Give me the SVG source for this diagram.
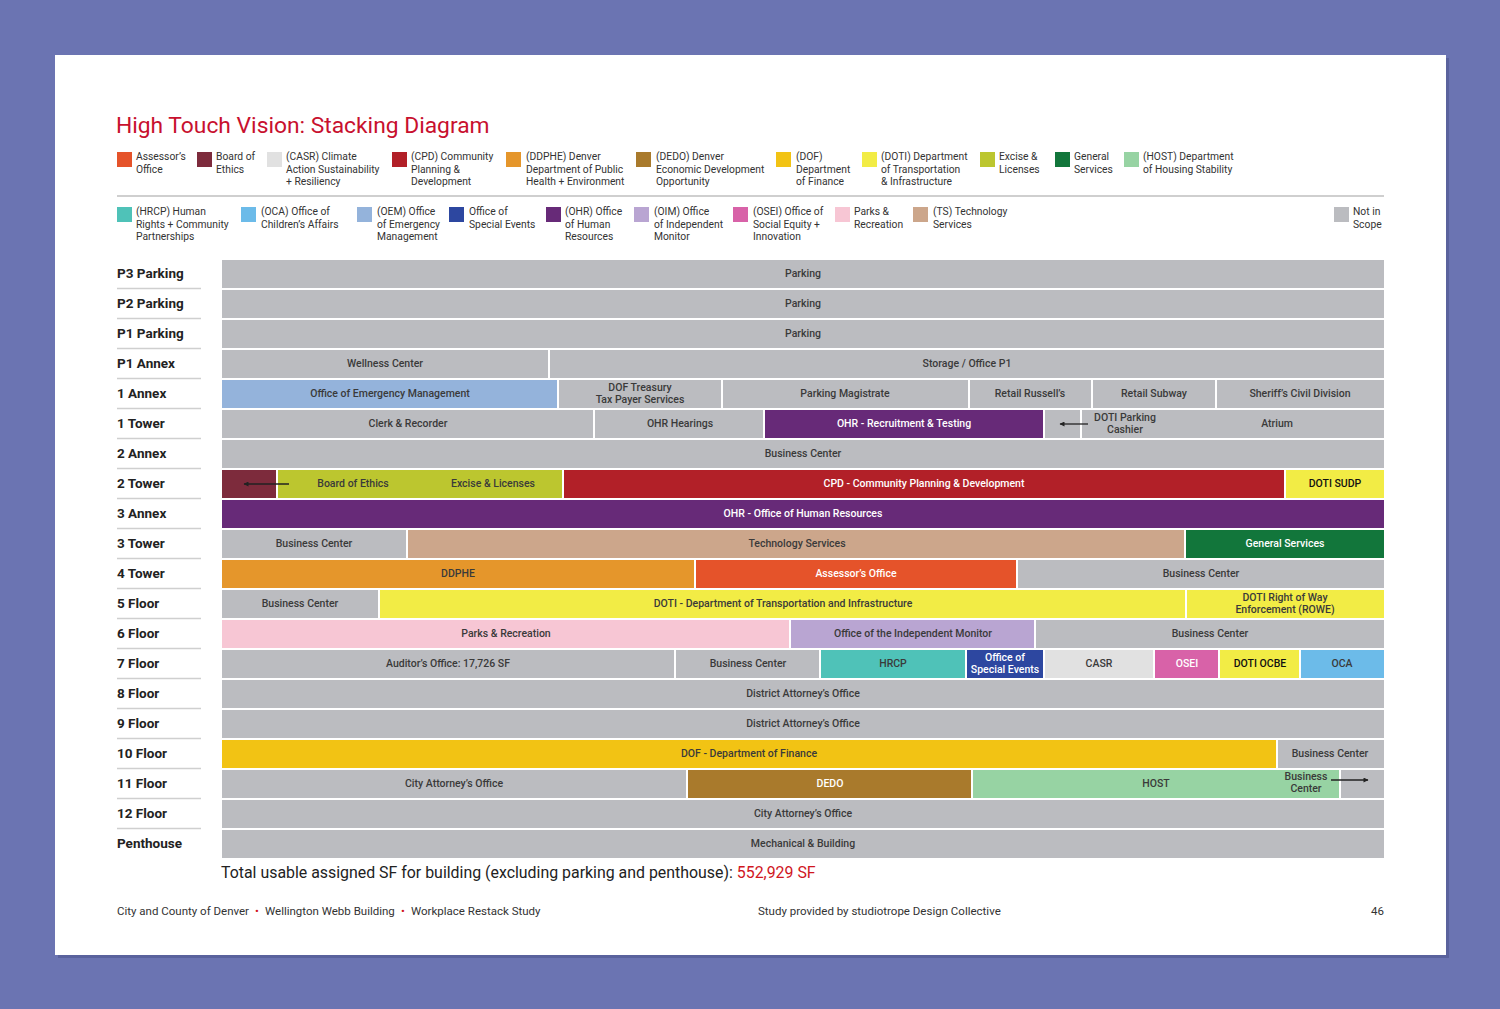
<svg xmlns="http://www.w3.org/2000/svg" width="1500" height="1009" viewBox="0 0 1500 1009">
<style>
text{font-family:Roboto,"Liberation Sans",Arial,sans-serif;}
.title{font-size:22.8px;fill:#c8102e;}
.lg{font-size:10.3px;fill:#333;}
.rl{font-size:13.5px;font-weight:700;fill:#222;}
.ul{stroke:#cfcfcf;stroke-width:1.5;}
.t{font-size:10.5px;font-weight:500;fill:#3a3a3a;text-anchor:middle;}
.w{fill:#fff;}
.k{fill:#111;}
.g{fill:#bbbcc0;}
.asr{fill:#e5532a;}.boe{fill:#7d2b3c;}.casr{fill:#e1e1e1;}.cpd{fill:#b22028;}
.ddphe{fill:#e5962b;}.dedo{fill:#a97a2c;}.dof{fill:#f2c314;}.doti{fill:#f2ec45;}
.exc{fill:#bcc62f;}.gs{fill:#12763b;}.host{fill:#97d3a3;}.hrcp{fill:#4fc2b8;}
.oca{fill:#6cbbe9;}.oem{fill:#94b3db;}.ose{fill:#2d47a0;}.ohr{fill:#672a78;}
.oim{fill:#b9a5d2;}.osei{fill:#d862a8;}.prk{fill:#f7c6d4;}.ts{fill:#cca68b;}
.arr{stroke:#222;stroke-width:1.3;fill:none;marker-end:url(#ah);}
.ft{font-size:11.5px;fill:#333;}
.bul{font-size:11.5px;fill:#d0161e;text-anchor:middle;}
</style>
<defs>
<marker id="ah" viewBox="0 0 10 10" refX="9" refY="5" markerWidth="7" markerHeight="5" orient="auto" markerUnits="userSpaceOnUse"><path d="M0,0 L10,5 L0,10 z" fill="#222"/></marker>
</defs>
<rect x="0" y="0" width="1500" height="1009" fill="#6b74b2"/>
<rect x="58" y="58" width="1391" height="900" fill="#4f5690" opacity="0.6"/>
<rect x="55" y="55" width="1391" height="900" fill="#fff"/>

<text class="title" x="116" y="133">High Touch Vision: Stacking Diagram</text>

<g id="legend">
<g id="lg-asr"><rect class="asr" x="117" y="152" width="15" height="15"/><text class="lg" x="136" y="160"><tspan x="136">Assessor’s</tspan><tspan x="136" dy="12.5">Office</tspan></text></g>
<g id="lg-boe"><rect class="boe" x="197" y="152" width="15" height="15"/><text class="lg" x="216" y="160"><tspan x="216">Board of</tspan><tspan x="216" dy="12.5">Ethics</tspan></text></g>
<g id="lg-casr"><rect class="casr" x="267" y="152" width="15" height="15"/><text class="lg" x="286" y="160"><tspan x="286">(CASR) Climate</tspan><tspan x="286" dy="12.5">Action Sustainability</tspan><tspan x="286" dy="12.5">+ Resiliency</tspan></text></g>
<g id="lg-cpd"><rect class="cpd" x="392" y="152" width="15" height="15"/><text class="lg" x="411" y="160"><tspan x="411">(CPD) Community</tspan><tspan x="411" dy="12.5">Planning &amp;</tspan><tspan x="411" dy="12.5">Development</tspan></text></g>
<g id="lg-ddphe"><rect class="ddphe" x="506" y="152" width="15" height="15"/><text class="lg" x="526" y="160"><tspan x="526">(DDPHE) Denver</tspan><tspan x="526" dy="12.5">Department of Public</tspan><tspan x="526" dy="12.5">Health + Environment</tspan></text></g>
<g id="lg-dedo"><rect class="dedo" x="636" y="152" width="15" height="15"/><text class="lg" x="656" y="160"><tspan x="656">(DEDO) Denver</tspan><tspan x="656" dy="12.5">Economic Development</tspan><tspan x="656" dy="12.5">Opportunity</tspan></text></g>
<g id="lg-dof"><rect class="dof" x="776" y="152" width="15" height="15"/><text class="lg" x="796" y="160"><tspan x="796">(DOF)</tspan><tspan x="796" dy="12.5">Department</tspan><tspan x="796" dy="12.5">of Finance</tspan></text></g>
<g id="lg-doti"><rect class="doti" x="862" y="152" width="15" height="15"/><text class="lg" x="881" y="160"><tspan x="881">(DOTI) Department</tspan><tspan x="881" dy="12.5">of Transportation</tspan><tspan x="881" dy="12.5">&amp; Infrastructure</tspan></text></g>
<g id="lg-exc"><rect class="exc" x="980" y="152" width="15" height="15"/><text class="lg" x="999" y="160"><tspan x="999">Excise &amp;</tspan><tspan x="999" dy="12.5">Licenses</tspan></text></g>
<g id="lg-gs"><rect class="gs" x="1055" y="152" width="15" height="15"/><text class="lg" x="1074" y="160"><tspan x="1074">General</tspan><tspan x="1074" dy="12.5">Services</tspan></text></g>
<g id="lg-host"><rect class="host" x="1124" y="152" width="15" height="15"/><text class="lg" x="1143" y="160"><tspan x="1143">(HOST) Department</tspan><tspan x="1143" dy="12.5">of Housing Stability</tspan></text></g>
<line x1="117" y1="196" x2="1384" y2="196" stroke="#cfcfcf" stroke-width="2"/>
<g id="lg-hrcp"><rect class="hrcp" x="117" y="207" width="15" height="15"/><text class="lg" x="136" y="215"><tspan x="136">(HRCP) Human</tspan><tspan x="136" dy="12.5">Rights + Community</tspan><tspan x="136" dy="12.5">Partnerships</tspan></text></g>
<g id="lg-oca"><rect class="oca" x="241" y="207" width="15" height="15"/><text class="lg" x="261" y="215"><tspan x="261">(OCA) Office of</tspan><tspan x="261" dy="12.5">Children’s Affairs</tspan></text></g>
<g id="lg-oem"><rect class="oem" x="357" y="207" width="15" height="15"/><text class="lg" x="377" y="215"><tspan x="377">(OEM) Office</tspan><tspan x="377" dy="12.5">of Emergency</tspan><tspan x="377" dy="12.5">Management</tspan></text></g>
<g id="lg-ose"><rect class="ose" x="449" y="207" width="15" height="15"/><text class="lg" x="469" y="215"><tspan x="469">Office of</tspan><tspan x="469" dy="12.5">Special Events</tspan></text></g>
<g id="lg-ohr"><rect class="ohr" x="546" y="207" width="15" height="15"/><text class="lg" x="565" y="215"><tspan x="565">(OHR) Office</tspan><tspan x="565" dy="12.5">of Human</tspan><tspan x="565" dy="12.5">Resources</tspan></text></g>
<g id="lg-oim"><rect class="oim" x="634" y="207" width="15" height="15"/><text class="lg" x="654" y="215"><tspan x="654">(OIM) Office</tspan><tspan x="654" dy="12.5">of Independent</tspan><tspan x="654" dy="12.5">Monitor</tspan></text></g>
<g id="lg-osei"><rect class="osei" x="733" y="207" width="15" height="15"/><text class="lg" x="753" y="215"><tspan x="753">(OSEI) Office of</tspan><tspan x="753" dy="12.5">Social Equity +</tspan><tspan x="753" dy="12.5">Innovation</tspan></text></g>
<g id="lg-prk"><rect class="prk" x="835" y="207" width="15" height="15"/><text class="lg" x="854" y="215"><tspan x="854">Parks &amp;</tspan><tspan x="854" dy="12.5">Recreation</tspan></text></g>
<g id="lg-ts"><rect class="ts" x="913" y="207" width="15" height="15"/><text class="lg" x="933" y="215"><tspan x="933">(TS) Technology</tspan><tspan x="933" dy="12.5">Services</tspan></text></g>
<g id="lg-nis"><rect class="g" x="1334" y="207" width="15" height="15"/><text class="lg" x="1353" y="215"><tspan x="1353">Not in</tspan><tspan x="1353" dy="12.5">Scope</tspan></text></g>
</g>

<g id="row-labels">
<text class="rl" x="117" y="278">P3 Parking</text><line class="ul" x1="117" y1="288.5" x2="201" y2="288.5"/>
<text class="rl" x="117" y="308">P2 Parking</text><line class="ul" x1="117" y1="318.5" x2="201" y2="318.5"/>
<text class="rl" x="117" y="338">P1 Parking</text><line class="ul" x1="117" y1="348.5" x2="201" y2="348.5"/>
<text class="rl" x="117" y="368">P1 Annex</text><line class="ul" x1="117" y1="378.5" x2="201" y2="378.5"/>
<text class="rl" x="117" y="398">1 Annex</text><line class="ul" x1="117" y1="408.5" x2="201" y2="408.5"/>
<text class="rl" x="117" y="428">1 Tower</text><line class="ul" x1="117" y1="438.5" x2="201" y2="438.5"/>
<text class="rl" x="117" y="458">2 Annex</text><line class="ul" x1="117" y1="468.5" x2="201" y2="468.5"/>
<text class="rl" x="117" y="488">2 Tower</text><line class="ul" x1="117" y1="498.5" x2="201" y2="498.5"/>
<text class="rl" x="117" y="518">3 Annex</text><line class="ul" x1="117" y1="528.5" x2="201" y2="528.5"/>
<text class="rl" x="117" y="548">3 Tower</text><line class="ul" x1="117" y1="558.5" x2="201" y2="558.5"/>
<text class="rl" x="117" y="578">4 Tower</text><line class="ul" x1="117" y1="588.5" x2="201" y2="588.5"/>
<text class="rl" x="117" y="608">5 Floor</text><line class="ul" x1="117" y1="618.5" x2="201" y2="618.5"/>
<text class="rl" x="117" y="638">6 Floor</text><line class="ul" x1="117" y1="648.5" x2="201" y2="648.5"/>
<text class="rl" x="117" y="668">7 Floor</text><line class="ul" x1="117" y1="678.5" x2="201" y2="678.5"/>
<text class="rl" x="117" y="698">8 Floor</text><line class="ul" x1="117" y1="708.5" x2="201" y2="708.5"/>
<text class="rl" x="117" y="728">9 Floor</text><line class="ul" x1="117" y1="738.5" x2="201" y2="738.5"/>
<text class="rl" x="117" y="758">10 Floor</text><line class="ul" x1="117" y1="768.5" x2="201" y2="768.5"/>
<text class="rl" x="117" y="788">11 Floor</text><line class="ul" x1="117" y1="798.5" x2="201" y2="798.5"/>
<text class="rl" x="117" y="818">12 Floor</text><line class="ul" x1="117" y1="828.5" x2="201" y2="828.5"/>
<text class="rl" x="117" y="848">Penthouse</text>
</g>

<g id="nodes">
<g id="p3-parking"><rect class="g" x="222" y="260" width="1162" height="28"/><text class="t" x="803" y="276.5">Parking</text></g>
<g id="p2-parking"><rect class="g" x="222" y="290" width="1162" height="28"/><text class="t" x="803" y="306.5">Parking</text></g>
<g id="p1-parking"><rect class="g" x="222" y="320" width="1162" height="28"/><text class="t" x="803" y="336.5">Parking</text></g>
<g id="wellness"><rect class="g" x="222" y="350" width="326" height="28"/><text class="t" x="385" y="366.5">Wellness Center</text></g>
<g id="storage"><rect class="g" x="550" y="350" width="834" height="28"/><text class="t" x="967" y="366.5">Storage / Office P1</text></g>
<g id="oem"><rect class="oem" x="222" y="380" width="335" height="28"/><text class="t" x="390" y="396.5">Office of Emergency Management</text></g>
<g id="dof-treasury"><rect class="g" x="559" y="380" width="162" height="28"/><text class="t" x="640" y="390.5">DOF Treasury</text><text class="t" x="640" y="402.5">Tax Payer Services</text></g>
<g id="parking-magistrate"><rect class="g" x="723" y="380" width="245" height="28"/><text class="t" x="845" y="396.5">Parking Magistrate</text></g>
<g id="retail-russells"><rect class="g" x="970" y="380" width="121" height="28"/><text class="t" x="1030" y="396.5">Retail Russell’s</text></g>
<g id="retail-subway"><rect class="g" x="1093" y="380" width="122" height="28"/><text class="t" x="1154" y="396.5">Retail Subway</text></g>
<g id="sheriff"><rect class="g" x="1217" y="380" width="167" height="28"/><text class="t" x="1300" y="396.5">Sheriff’s Civil Division</text></g>
<g id="clerk"><rect class="g" x="222" y="410" width="371" height="28"/><text class="t" x="408" y="426.5">Clerk &amp; Recorder</text></g>
<g id="ohr-hearings"><rect class="g" x="595" y="410" width="168" height="28"/><text class="t" x="680" y="426.5">OHR Hearings</text></g>
<g id="ohr-recruitment"><rect class="ohr" x="765" y="410" width="278" height="28"/><text class="t w" x="904" y="426.5">OHR - Recruitment &amp; Testing</text></g>
<g id="gap-1tower"><rect class="g" x="1045" y="410" width="35" height="28"/></g>
<g id="doti-cashier-atrium"><rect class="g" x="1082" y="410" width="302" height="28"/><text class="t" x="1125" y="420.5">DOTI Parking</text><text class="t" x="1125" y="432.5">Cashier</text><text class="t" x="1277" y="426.5">Atrium</text></g>
<g id="bc-2annex"><rect class="g" x="222" y="440" width="1162" height="28"/><text class="t" x="803" y="456.5">Business Center</text></g>
<g id="boe-old"><rect class="boe" x="222" y="470" width="54" height="28"/></g>
<g id="boe-excise"><rect class="exc" x="278" y="470" width="284" height="28"/><text class="t" x="353" y="486.5">Board of Ethics</text><text class="t" x="493" y="486.5">Excise &amp; Licenses</text></g>
<g id="cpd"><rect class="cpd" x="564" y="470" width="720" height="28"/><text class="t w" x="924" y="486.5">CPD - Community Planning &amp; Development</text></g>
<g id="doti-sudp"><rect class="doti" x="1286" y="470" width="98" height="28"/><text class="t k" x="1335" y="486.5">DOTI SUDP</text></g>
<g id="ohr"><rect class="ohr" x="222" y="500" width="1162" height="28"/><text class="t w" x="803" y="516.5">OHR - Office of Human Resources</text></g>
<g id="bc-3tower"><rect class="g" x="222" y="530" width="184" height="28"/><text class="t" x="314" y="546.5">Business Center</text></g>
<g id="ts"><rect class="ts" x="408" y="530" width="776" height="28"/><text class="t" x="797" y="546.5">Technology Services</text></g>
<g id="gs"><rect class="gs" x="1186" y="530" width="198" height="28"/><text class="t w" x="1285" y="546.5">General Services</text></g>
<g id="ddphe"><rect class="ddphe" x="222" y="560" width="472" height="28"/><text class="t" x="458" y="576.5">DDPHE</text></g>
<g id="assessor"><rect class="asr" x="696" y="560" width="320" height="28"/><text class="t w" x="856" y="576.5">Assessor’s Office</text></g>
<g id="bc-4tower"><rect class="g" x="1018" y="560" width="366" height="28"/><text class="t" x="1201" y="576.5">Business Center</text></g>
<g id="bc-5"><rect class="g" x="222" y="590" width="156" height="28"/><text class="t" x="300" y="606.5">Business Center</text></g>
<g id="doti"><rect class="doti" x="380" y="590" width="805" height="28"/><text class="t" x="783" y="606.5">DOTI - Department of Transportation and Infrastructure</text></g>
<g id="rowe"><rect class="doti" x="1187" y="590" width="197" height="28"/><text class="t" x="1285" y="600.5">DOTI Right of Way</text><text class="t" x="1285" y="612.5">Enforcement (ROWE)</text></g>
<g id="parks"><rect class="prk" x="222" y="620" width="567" height="28"/><text class="t" x="506" y="636.5">Parks &amp; Recreation</text></g>
<g id="oim"><rect class="oim" x="791" y="620" width="243" height="28"/><text class="t" x="913" y="636.5">Office of the Independent Monitor</text></g>
<g id="bc-6"><rect class="g" x="1036" y="620" width="348" height="28"/><text class="t" x="1210" y="636.5">Business Center</text></g>
<g id="auditor"><rect class="g" x="222" y="650" width="452" height="28"/><text class="t" x="448" y="666.5">Auditor’s Office: 17,726 SF</text></g>
<g id="bc-7"><rect class="g" x="676" y="650" width="143" height="28"/><text class="t" x="748" y="666.5">Business Center</text></g>
<g id="hrcp"><rect class="hrcp" x="821" y="650" width="144" height="28"/><text class="t" x="893" y="666.5">HRCP</text></g>
<g id="ose"><rect class="ose" x="967" y="650" width="76" height="28"/><text class="t w" x="1005" y="660.5">Office of</text><text class="t w" x="1005" y="672.5">Special Events</text></g>
<g id="casr"><rect class="casr" x="1045" y="650" width="108" height="28"/><text class="t" x="1099" y="666.5">CASR</text></g>
<g id="osei"><rect class="osei" x="1155" y="650" width="63" height="28"/><text class="t w" x="1187" y="666.5">OSEI</text></g>
<g id="doti-ocbe"><rect class="doti" x="1220" y="650" width="79" height="28"/><text class="t k" x="1260" y="666.5">DOTI OCBE</text></g>
<g id="oca"><rect class="oca" x="1301" y="650" width="83" height="28"/><text class="t" x="1342" y="666.5">OCA</text></g>
<g id="da-8"><rect class="g" x="222" y="680" width="1162" height="28"/><text class="t" x="803" y="696.5">District Attorney’s Office</text></g>
<g id="da-9"><rect class="g" x="222" y="710" width="1162" height="28"/><text class="t" x="803" y="726.5">District Attorney’s Office</text></g>
<g id="dof"><rect class="dof" x="222" y="740" width="1054" height="28"/><text class="t" x="749" y="756.5">DOF - Department of Finance</text></g>
<g id="bc-10"><rect class="g" x="1278" y="740" width="106" height="28"/><text class="t" x="1330" y="756.5">Business Center</text></g>
<g id="city-atty-11"><rect class="g" x="222" y="770" width="464" height="28"/><text class="t" x="454" y="786.5">City Attorney’s Office</text></g>
<g id="dedo"><rect class="dedo" x="688" y="770" width="283" height="28"/><text class="t w" x="830" y="786.5">DEDO</text></g>
<g id="host"><rect class="host" x="973" y="770" width="366" height="28"/><text class="t" x="1156" y="786.5">HOST</text><text class="t" x="1306" y="779.5">Business</text><text class="t" x="1306" y="791.5">Center</text></g>
<g id="gap-11"><rect class="g" x="1341" y="770" width="43" height="28"/></g>
<g id="city-atty-12"><rect class="g" x="222" y="800" width="1162" height="28"/><text class="t" x="803" y="816.5">City Attorney’s Office</text></g>
<g id="mech"><rect class="g" x="222" y="830" width="1162" height="28"/><text class="t" x="803" y="846.5">Mechanical &amp; Building</text></g>
</g>

<g id="connectors">
<line class="arr" x1="1088" y1="424" x2="1060" y2="424"/>
<line class="arr" x1="289" y1="484" x2="244" y2="484"/>
<line class="arr" x1="1331" y1="780" x2="1368" y2="780"/>
</g>

<text x="221" y="878" style="font-size:15.9px;fill:#222;">Total usable assigned SF for building (excluding parking and penthouse): <tspan fill="#d0161e">552,929 SF</tspan></text>

<g id="footer">
<text class="ft" x="117" y="915">City and County of Denver</text>
<text class="bul" x="257" y="915">•</text>
<text class="ft" x="265" y="915">Wellington Webb Building</text>
<text class="bul" x="403" y="915">•</text>
<text class="ft" x="411" y="915">Workplace Restack Study</text>
<text class="ft" x="758" y="915">Study provided by studiotrope Design Collective</text>
<text class="ft" x="1384" y="915" text-anchor="end">46</text>
</g>
</svg>
